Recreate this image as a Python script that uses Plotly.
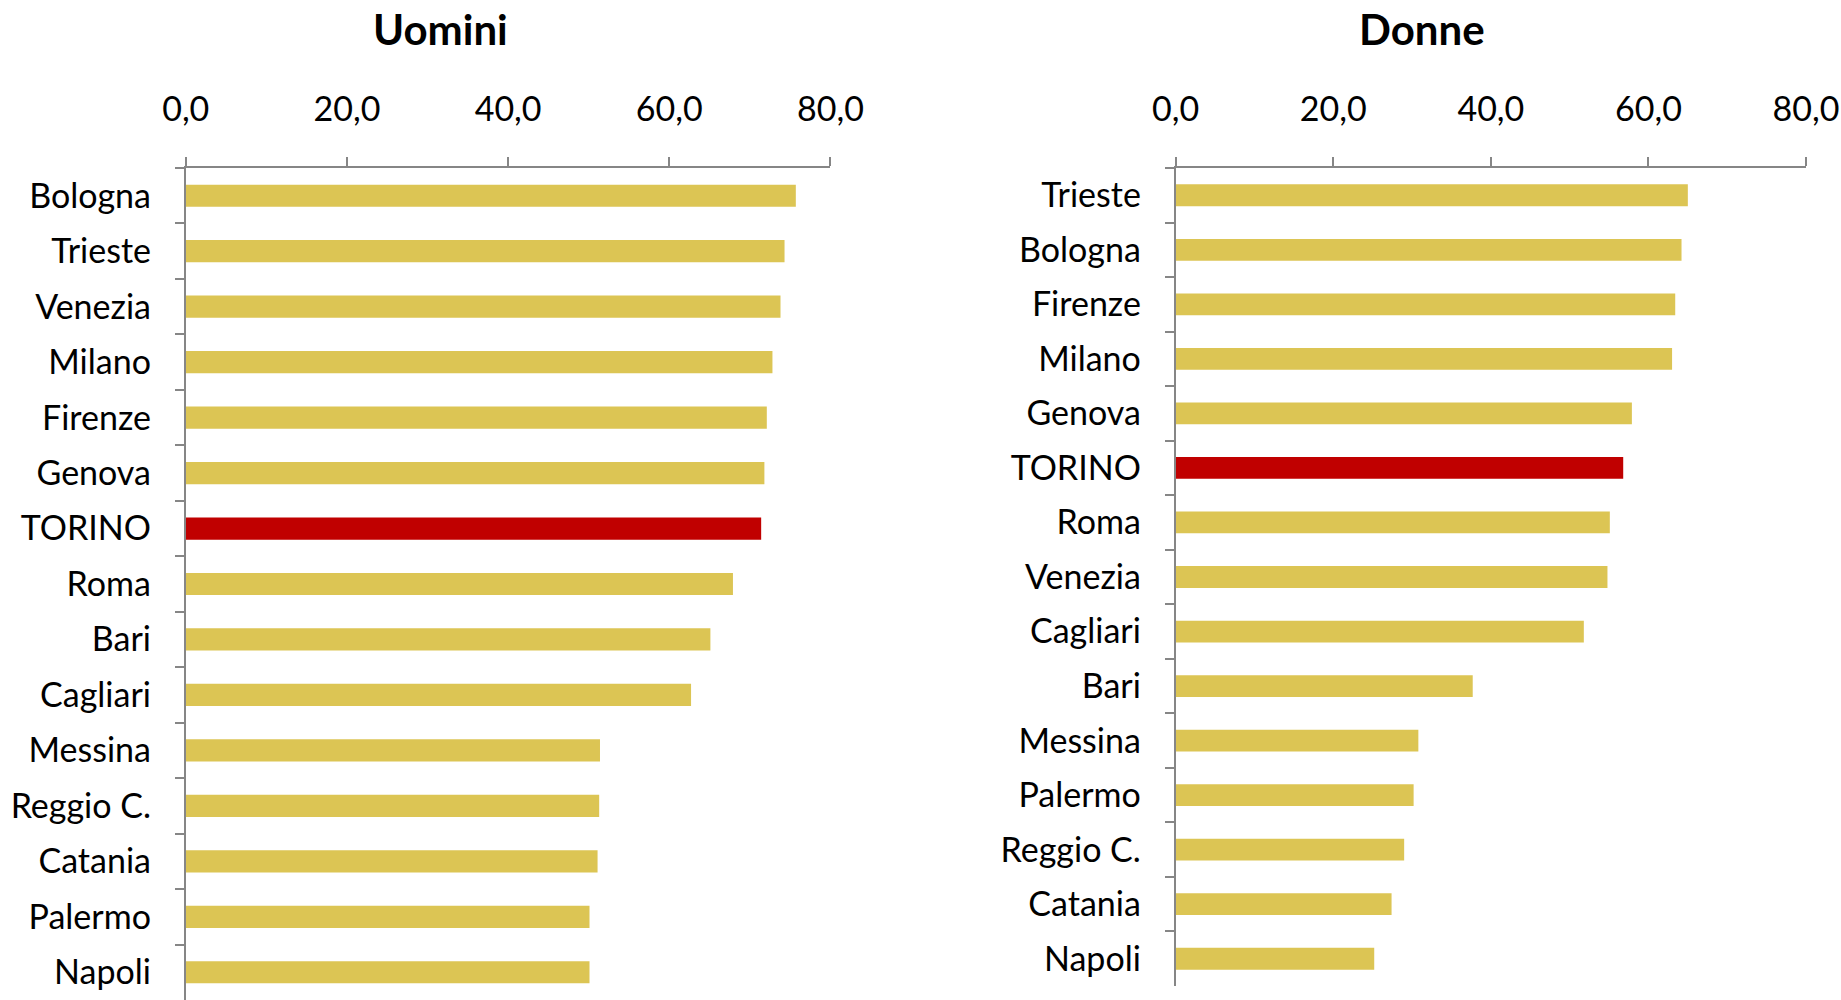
import plotly.graph_objects as go

# Uomini (men), top to bottom
cities_m = ["Bologna", "Trieste", "Venezia", "Milano", "Firenze", "Genova", "TORINO",
            "Roma", "Bari", "Cagliari", "Messina", "Reggio C.", "Catania", "Palermo", "Napoli"]
values_m = [75.7, 74.3, 73.8, 72.8, 72.1, 71.8, 71.4, 67.9, 65.1, 62.7, 51.4, 51.3, 51.1, 50.1, 50.1]

# Donne (women), top to bottom
cities_f = ["Trieste", "Bologna", "Firenze", "Milano", "Genova", "TORINO", "Roma",
            "Venezia", "Cagliari", "Bari", "Messina", "Palermo", "Reggio C.", "Catania", "Napoli"]
values_f = [65.0, 64.2, 63.4, 63.0, 57.9, 56.8, 55.1, 54.8, 51.8, 37.7, 30.8, 30.2, 29.0, 27.4, 25.2]

x_ticks = [0, 20, 40, 60, 80]

GOLD = "#DCC554"
RED = "#C00000"
GREY = "#868686"
FONT = "Lato"


def bar_colors(cities):
    return [RED if c == "TORINO" else GOLD for c in cities]


fig = go.Figure()

fig.add_trace(go.Bar(
    x=values_m, y=cities_m, orientation="h",
    marker=dict(color=bar_colors(cities_m), line=dict(width=0)),
    width=0.4, xaxis="x", yaxis="y", showlegend=False))

fig.add_trace(go.Bar(
    x=values_f, y=cities_f, orientation="h",
    marker=dict(color=bar_colors(cities_f), line=dict(width=0)),
    width=0.4, xaxis="x2", yaxis="y2", showlegend=False))

xaxis_style = dict(
    range=[0, 80], tickvals=x_ticks, tickformat=".1f", side="top", automargin=False,
    showline=True, linecolor=GREY, linewidth=2, ticks="outside", tickcolor=GREY,
    ticklen=9, tickwidth=2, showgrid=False, zeroline=False,
    tickfont=dict(family=FONT, size=34, color="black"), ticklabelstandoff=22)

yaxis_style = dict(
    autorange="reversed", showline=True, linecolor=GREY, linewidth=2, automargin=False,
    ticks="outside", tickson="boundaries", tickcolor=GREY, ticklen=9, tickwidth=2,
    showgrid=False, tickfont=dict(family=FONT, size=34, color="black"),
    ticklabelstandoff=26)

fig.update_layout(
    width=1841, height=1000,
    margin=dict(l=0, r=0, t=0, b=0),
    plot_bgcolor="white", paper_bgcolor="white",
    separators=",.",
    bargap=0.6,
    xaxis=dict(domain=[0.1009, 0.4511], anchor="y", **xaxis_style),
    yaxis=dict(domain=[0.0, 0.832], anchor="x", **yaxis_style),
    xaxis2=dict(domain=[0.6386, 0.981], anchor="y2", **xaxis_style),
    yaxis2=dict(domain=[0.014, 0.832], anchor="x2", **yaxis_style),
    annotations=[
        dict(text="<b>Uomini</b>", x=440 / 1841, y=0.971, xref="paper", yref="paper",
             xanchor="center", yanchor="middle",
             showarrow=False, font=dict(family=FONT, size=42, color="black")),
        dict(text="<b>Donne</b>", x=1422 / 1841, y=0.971, xref="paper", yref="paper",
             xanchor="center", yanchor="middle",
             showarrow=False, font=dict(family=FONT, size=42, color="black")),
    ],
)

# drop the default page margin so the 1841x1000 figure fills the window exactly
fig.write_html("out.html", config={"displayModeBar": False},
               post_script="document.body.style.margin = '0';")
